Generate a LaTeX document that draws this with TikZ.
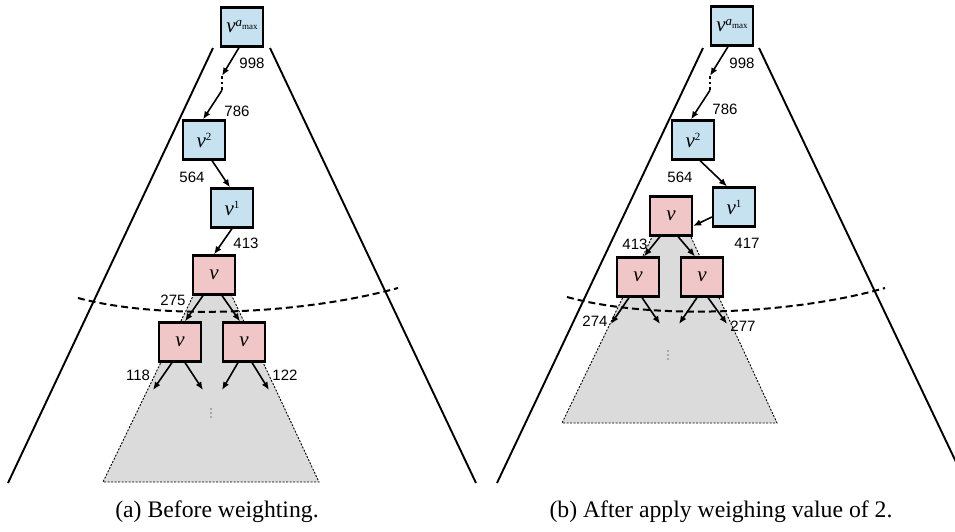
\documentclass[tikz,border=0pt]{standalone}
\usepackage{fontspec}
\setmainfont{Liberation Sans}
\newfontfamily\serifx{Liberation Serif}
\usetikzlibrary{arrows.meta}
\definecolor{boxblue}{RGB}{198,226,240}
\definecolor{boxpink}{RGB}{240,198,198}
\definecolor{treegray}{RGB}{219,219,219}
\tikzset{
  nodebox/.style={draw=black, line width=2.2pt, minimum width=42pt, minimum height=39pt, inner sep=0pt, font=\serifx\fontsize{21}{21}\selectfont},
  bluebox/.style={nodebox, fill=boxblue},
  pinkbox/.style={nodebox, fill=boxpink},
  edge/.style={line width=1.6pt, -{Latex[length=8pt,width=6.5pt]}},
  numlabel/.style={font=\fontsize{15}{15}\selectfont, inner sep=0pt},
  bigline/.style={line width=1.9pt},
  cutline/.style={line width=2pt, dash pattern=on 7pt off 4pt},
  subtree/.style={fill=treegray, draw=black, line width=0.9pt, dash pattern=on 2pt off 1.5pt},
  dotcol/.style={inner sep=0pt, minimum width=4pt, minimum height=14pt},
  smalldots/.style={inner sep=0pt, minimum width=2pt, minimum height=10pt},
  caption/.style={font=\serifx\fontsize{23.7}{23.7}\selectfont, inner sep=0pt, anchor=base},
}
\newcommand{\vamax}{\textit{v}\raisebox{6pt}{\fontsize{13}{13}\selectfont\textit{a}\raisebox{-2.5pt}{\fontsize{9}{9}\selectfont max}}}
\newcommand{\vsup}[1]{\textit{v}\raisebox{7pt}{\fontsize{11}{11}\selectfont #1}}
\newcommand{\thickdots}[1]{\fill (#1) ++(-1.4,-7) rectangle ++(2.8,2.8);
  \fill (#1) ++(-1.4,-1.4) rectangle ++(2.8,2.8);
  \fill (#1) ++(-1.4,4.2) rectangle ++(2.8,2.8);}
\newcommand{\thindots}[1]{\fill (#1) ++(0,-4) circle (0.7);
  \fill (#1) circle (0.7);
  \fill (#1) ++(0,4) circle (0.7);}
\begin{document}
\begin{tikzpicture}[x=1pt,y=-1pt]
\useasboundingbox (0,0) rectangle (955,532);
\clip (0,0) rectangle (955,532);

% ================= panel (a) =================
\draw[bigline] (213,48) -- (8,483);
\draw[bigline] (270,48) -- (476,483);
\draw[subtree] (194,294) -- (103,482) -- (319,482) -- (231,294);
\node[smalldots] (ga) at (211,413) {};
\thindots{ga}

\node[bluebox] (aT) at (242,27) {\vamax};
\node[dotcol] (aD) at (222,83) {};
\thickdots{aD}
\node[bluebox] (a2) at (204,140) {\vsup{2}};
\node[bluebox] (a1) at (232,208) {\vsup{1}};
\node[pinkbox] (aR) at (214,275) {\textit{v}};
\node[pinkbox] (aL) at (180,342) {\raisebox{-3pt}{\textit{v}}};
\node[pinkbox] (aRc) at (244,342) {\raisebox{-3pt}{\textit{v}}};

\draw[cutline] (78,298) .. controls (160,320) and (300,315) .. (398,288);

\draw[edge] ([xshift=-3pt]aT.south) -- (aD.north);
\draw[edge] (aD.south) -- ([xshift=-1pt]a2.north);
\draw[edge] ([xshift=8pt]a2.south) -- ([xshift=-2pt]a1.north);
\draw[edge] (a1.south) -- (aR.north);
\draw[edge] ([xshift=-11pt]aR.south) -- ([xshift=5pt]aL.north);
\draw[edge] ([xshift=8pt]aR.south) -- ([xshift=-4pt]aRc.north);
\coordinate (aL1) at (153,390);
\coordinate (aL2) at (203,390);
\coordinate (aR1) at (222,390);
\coordinate (aR2) at (269,390);
\draw[edge] ([xshift=-8pt]aL.south) -- (aL1);
\draw[edge] ([xshift=5pt]aL.south) -- (aL2);
\draw[edge] ([xshift=-6pt]aRc.south) -- (aR1);
\draw[edge] ([xshift=8pt]aRc.south) -- (aR2);

\node[numlabel] (la1) at (252,63) {998};
\node[numlabel] (la2) at (237,111) {786};
\node[numlabel] (la3) at (192,177) {564};
\node[numlabel] (la4) at (246,243) {413};
\node[numlabel] (la5) at (173,300) {275};
\node[numlabel] (la6) at (138,375) {118};
\node[numlabel] (la7) at (285,375) {122};

\node[caption] (capa) at (217,517) {(a) Before weighting.};

% ================= panel (b) =================
\draw[bigline] (703,48) -- (497,483);
\draw[bigline] (759,48) -- (966,483);
\draw[subtree] (653,235) -- (562,423) -- (777,423) -- (690,235);
\node[smalldots] (gb) at (668,355) {};
\thindots{gb}

\node[bluebox] (bT) at (732,26) {\vamax};
\node[dotcol] (bD) at (710,83) {};
\thickdots{bD}
\node[bluebox] (b2) at (693,140) {\vsup{2}};
\node[bluebox] (b1) at (734,207) {\vsup{1}};
\node[pinkbox] (bR) at (671,216) {\textit{v}};
\node[pinkbox] (bL) at (638,277) {\raisebox{-9pt}{\textit{v}}};
\node[pinkbox] (bRc) at (702,277) {\raisebox{-9pt}{\textit{v}}};

\draw[cutline] (567,297) .. controls (650,320) and (790,315) .. (885,288);

\draw[edge] ([xshift=-4pt]bT.south) -- (bD.north);
\draw[edge] (bD.south) -- ([xshift=-2pt]b2.north);
\draw[edge] ([xshift=7pt]b2.south) -- ([xshift=-7pt]b1.north);
\draw[edge] ([yshift=-10pt]b1.west) -- ([yshift=-10pt]bR.east);
\draw[edge] ([xshift=-11pt]bR.south) -- ([xshift=6pt]bL.north);
\draw[edge] ([xshift=7pt]bR.south) -- ([xshift=-7pt]bRc.north);
\coordinate (bL1) at (611,324);
\coordinate (bL2) at (660,324);
\coordinate (bR1) at (679,324);
\coordinate (bR2) at (727,324);
\draw[edge] ([xshift=-9pt]bL.south) -- (bL1);
\draw[edge] ([xshift=4pt]bL.south) -- (bL2);
\draw[edge] ([xshift=-5pt]bRc.south) -- (bR1);
\draw[edge] ([xshift=6pt]bRc.south) -- (bR2);

\node[numlabel] (lb1) at (742,63) {998};
\node[numlabel] (lb2) at (725,109) {786};
\node[numlabel] (lb3) at (680,177) {564};
\node[numlabel] (lb4) at (747,243) {417};
\node[numlabel] (lb5) at (635,244) {413};
\node[numlabel] (lb6) at (595,321) {274};
\node[numlabel] (lb7) at (743,326) {277};

\node[caption] (capb) at (721,517) {(b) After apply weighing value of 2.};
\end{tikzpicture}
\end{document}
